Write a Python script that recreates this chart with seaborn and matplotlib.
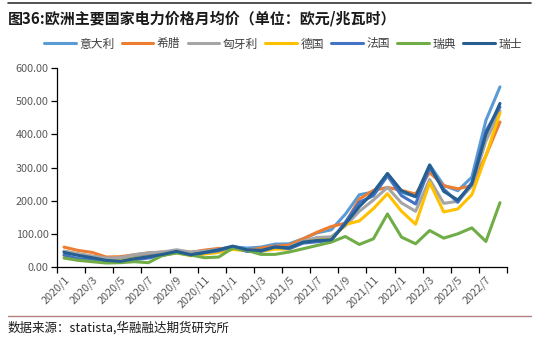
import matplotlib
matplotlib.use("Agg")
import matplotlib.pyplot as plt
import seaborn as sns
import pandas as pd
import numpy as np

# Months 2020/1 .. 2022/8
months = [f"{y}/{m}" for y in (2020, 2021, 2022) for m in range(1, 13)][:32]

italy = [47, 39, 32, 25, 22, 28, 38, 40, 49, 44, 49, 54,
         61, 57, 60, 69, 70, 85, 103, 112, 159, 218, 226, 281,
         225, 212, 308, 246, 230, 271, 442, 543]
greece = [60, 50, 44, 30, 31, 37, 42, 45, 48, 44, 51, 56,
          55, 50, 57, 63, 66, 85, 105, 122, 132, 205, 231, 240,
          231, 220, 285, 245, 236, 245, 336, 437]
hungary = [48, 40, 33, 27, 28, 37, 43, 45, 52, 45, 48, 53,
           56, 52, 50, 57, 60, 78, 89, 91, 124, 168, 202, 240,
           193, 168, 264, 192, 198, 244, 380, 470]
germany = [35, 22, 23, 17, 18, 26, 30, 35, 43, 34, 39, 44,
           53, 49, 47, 54, 54, 74, 81, 83, 128, 139, 176, 221,
           168, 129, 255, 166, 175, 218, 335, 465]
france = [36, 25, 23, 15, 15, 22, 27, 35, 45, 36, 43, 49,
          61, 47, 47, 61, 55, 72, 76, 80, 135, 195, 215, 275,
          215, 190, 300, 235, 195, 255, 410, 482]
sweden = [27, 20, 16, 12, 13, 16, 13, 35, 42, 36, 28, 30,
          57, 50, 38, 38, 45, 55, 65, 75, 92, 68, 85, 160,
          90, 70, 110, 87, 100, 118, 77, 194]
switzerland = [44, 35, 28, 20, 17, 25, 31, 38, 47, 37, 44, 52,
               63, 52, 50, 60, 58, 75, 80, 82, 130, 182, 225, 282,
               230, 212, 307, 228, 202, 250, 400, 493]

countries = ["意大利", "希腊", "匈牙利", "德国", "法国", "瑞典", "瑞士"]
series = [italy, greece, hungary, germany, france, sweden, switzerland]
colors = ["#5B9BD5", "#ED7D31", "#A5A5A5", "#FFC000", "#4472C4", "#70AD47", "#255E91"]

rows = []
for name, vals in zip(countries, series):
    for i, v in enumerate(vals):
        rows.append({"idx": i, "month": months[i], "country": name, "value": v})
df = pd.DataFrame(rows)

sns.set_theme(style="white")
plt.rcParams["font.family"] = ["Noto Sans CJK SC", "DejaVu Sans"]

fig = plt.figure(figsize=(5.39, 3.40), dpi=100)
ax = fig.add_axes([57 / 539, (340 - 267) / 340, 450 / 539, 199 / 340])

sns.lineplot(data=df, x="idx", y="value", hue="country", hue_order=countries,
             palette=colors, linewidth=2.2, ax=ax, legend=False)

ax.set_xlim(-0.5, len(months) - 0.5)
ax.set_ylim(0, 600)
ax.set_yticks(np.arange(0, 601, 100))
ax.set_yticklabels([f"{v:.2f}" for v in np.arange(0, 601, 100)], fontsize=7.8, color="#595959")

# boundary ticks every two months, labels at category centres
ax.set_xticks(np.arange(-0.5, len(months), 2))
ax.set_xticklabels([])
ax.set_xticks(np.arange(0, len(months), 2), minor=True)
ax.set_xticklabels([months[i] for i in range(0, len(months), 2)], minor=True,
                   rotation=45, ha="right", rotation_mode="anchor",
                   fontsize=7.8, color="#595959")
ax.tick_params(axis="x", which="major", direction="out", length=4, width=0.9, color="black", bottom=True)
ax.tick_params(axis="x", which="minor", length=0, pad=5)
ax.tick_params(axis="y", direction="out", length=4, width=0.9, color="black", left=True, pad=2)

ax.set_xlabel("")
ax.set_ylabel("")
for s in ("top", "right"):
    ax.spines[s].set_visible(False)
for s in ("left", "bottom"):
    ax.spines[s].set_color("black")
    ax.spines[s].set_linewidth(0.9)

# legend
handles = [plt.Line2D([0], [0], color=c, lw=2.2) for c in colors]
fig.legend(handles, countries, loc="center", bbox_to_anchor=(0.525, 1 - 44 / 340),
           ncol=7, frameon=False, fontsize=8.5, handlelength=2.7, handletextpad=0.3,
           columnspacing=0.6, labelcolor="#404040")

# title, rules and source
fig.text(8 / 539, 1 - 18 / 340, "图36:欧洲主要国家电力价格月均价（单位：欧元/兆瓦时）",
         fontsize=10.8, fontweight="bold", color="#1a1a1a", va="center", ha="left")
fig.add_artist(plt.Line2D([8 / 539, 531 / 539], [1 - 3 / 340, 1 - 3 / 340], color="#333333", lw=1.2))
fig.add_artist(plt.Line2D([8 / 539, 531 / 539], [1 - 316 / 340, 1 - 316 / 340], color="#B08080", lw=1.0))
fig.text(8 / 539, 1 - 328 / 340, "数据来源：statista,华融融达期货研究所",
         fontsize=9, color="#1a1a1a", va="center", ha="left")

fig.savefig("out.png", dpi=100)
